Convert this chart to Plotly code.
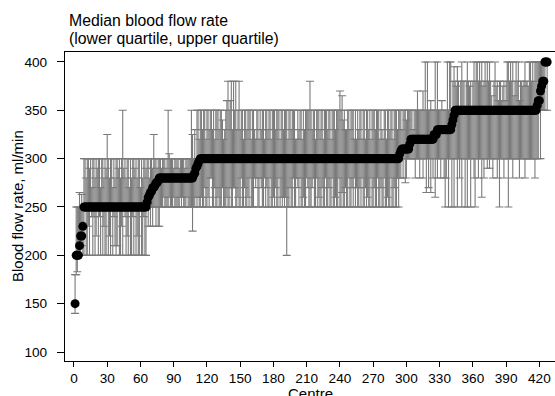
import plotly.graph_objects as go

# Median blood flow rate per centre (sorted), ml/min
median = [
    150,200,200,200,210,220,220,230,250,250,250,250,250,250,250,250,250,250,250,250,
    250,250,250,250,250,250,250,250,250,250,250,250,250,250,250,250,250,250,250,250,
    250,250,250,250,250,250,250,250,250,250,250,250,250,250,250,250,250,250,250,250,
    250,250,250,250,250,255,260,262,265,266,270,270,272,275,275,277,280,280,280,280,
    280,280,280,280,280,280,280,280,280,280,280,280,280,280,280,280,280,280,280,280,
    280,280,280,280,280,280,280,283,285,290,292,295,298,300,300,300,300,300,300,300,
    300,300,300,300,300,300,300,300,300,300,300,300,300,300,300,300,300,300,300,300,
    300,300,300,300,300,300,300,300,300,300,300,300,300,300,300,300,300,300,300,300,
    300,300,300,300,300,300,300,300,300,300,300,300,300,300,300,300,300,300,300,300,
    300,300,300,300,300,300,300,300,300,300,300,300,300,300,300,300,300,300,300,300,
    300,300,300,300,300,300,300,300,300,300,300,300,300,300,300,300,300,300,300,300,
    300,300,300,300,300,300,300,300,300,300,300,300,300,300,300,300,300,300,300,300,
    300,300,300,300,300,300,300,300,300,300,300,300,300,300,300,300,300,300,300,300,
    300,300,300,300,300,300,300,300,300,300,300,300,300,300,300,300,300,300,300,300,
    300,300,300,300,300,300,300,300,300,300,300,300,300,305,308,310,310,310,310,310,
    310,310,315,320,320,320,320,320,320,320,320,320,320,320,320,320,320,320,320,320,
    320,320,320,320,325,325,325,330,330,330,330,330,330,330,330,330,330,330,330,330,
    335,340,345,350,350,350,350,350,350,350,350,350,350,350,350,350,350,350,350,350,
    350,350,350,350,350,350,350,350,350,350,350,350,350,350,350,350,350,350,350,350,
    350,350,350,350,350,350,350,350,350,350,350,350,350,350,350,350,350,350,350,350,
    350,350,350,350,350,350,350,350,350,350,350,350,350,350,350,350,350,355,360,360,
    370,375,380,380,400,400,400,
]

# Lower quartile per centre
lower_q = [
    140,180,183,200,200,200,210,200,200,250,200,200,230,200,250,240,200,240,200,220,
    250,200,240,200,250,200,230,200,200,250,200,220,200,250,200,240,210,200,210,250,
    200,200,230,200,250,240,200,220,200,250,200,200,240,200,250,200,220,200,200,250,
    200,200,240,200,200,250,230,250,230,250,230,250,250,230,250,230,230,250,250,250,
    260,250,250,250,250,260,250,250,250,260,250,250,250,250,250,260,250,260,250,250,
    250,260,250,250,250,250,225,250,250,260,250,260,250,250,260,250,250,270,250,250,
    260,250,280,280,250,250,270,250,250,260,250,250,250,270,250,250,250,260,250,250,
    270,250,250,270,270,250,250,260,250,250,280,250,250,270,250,250,260,250,280,250,
    250,250,280,270,280,250,250,280,270,250,250,280,250,270,250,250,280,250,250,260,
    250,270,250,250,280,250,260,250,260,250,260,200,250,250,270,250,250,280,250,250,
    280,270,250,280,250,250,260,250,250,280,270,250,250,250,270,280,250,250,280,250,
    260,250,250,270,250,250,280,250,250,270,250,250,280,250,250,260,250,250,280,250,
    250,265,250,250,270,250,250,280,250,250,270,250,280,250,270,250,250,270,250,280,
    250,250,270,250,260,250,250,280,250,250,270,250,250,280,250,250,270,250,250,280,
    250,250,260,250,250,280,250,250,270,250,250,280,250,280,280,300,280,300,275,280,
    300,300,300,300,300,300,300,280,300,300,300,280,300,300,280,300,300,265,300,270,
    300,265,300,280,300,260,300,280,300,300,280,300,300,280,250,280,300,250,300,300,
    250,300,250,300,300,250,300,280,300,250,300,300,250,300,250,300,300,250,300,300,
    280,250,300,300,280,300,300,260,300,280,300,300,290,300,290,300,300,280,300,300,
    300,280,300,250,300,300,300,280,300,300,300,250,300,300,300,280,300,300,300,300,
    300,280,300,300,300,300,280,300,300,300,300,300,300,300,300,280,300,300,300,350,
    300,350,350,350,350,400,350,
]

# Upper quartile per centre
upper_q = [
    180,250,250,250,265,250,263,250,300,300,280,300,300,290,300,270,300,300,280,300,
    290,300,300,270,300,300,280,300,290,325,300,280,300,300,270,300,280,300,300,290,
    300,280,300,350,290,300,280,300,300,270,300,280,300,300,290,300,280,300,300,270,
    300,280,300,300,290,300,300,280,300,300,290,325,300,300,290,300,300,300,290,300,
    300,300,290,300,350,305,300,300,300,290,300,300,300,300,290,300,300,300,300,290,
    300,300,300,300,300,350,325,300,330,300,350,350,320,350,350,330,350,350,320,350,
    350,330,350,350,330,350,320,350,350,350,330,350,350,340,320,330,350,360,380,350,
    360,380,330,380,350,380,330,350,380,330,350,350,320,350,350,330,350,350,350,320,
    350,350,330,320,350,350,320,350,330,350,350,320,350,350,330,350,350,320,350,350,
    350,330,350,350,350,320,350,350,330,350,350,350,320,350,350,330,350,350,350,320,
    320,350,330,350,350,320,350,330,350,350,350,350,380,350,330,350,350,320,350,350,
    350,330,350,350,320,350,350,350,330,350,350,320,350,350,350,330,350,350,350,370,
    350,365,340,350,330,330,350,350,330,350,350,350,320,350,320,350,330,350,350,320,
    350,350,320,350,350,330,350,320,350,350,350,330,350,350,350,320,350,330,320,350,
    350,320,350,350,330,350,350,320,350,350,350,330,350,350,350,330,350,350,350,340,
    350,350,350,350,350,330,350,350,350,370,350,350,350,350,370,350,400,350,400,350,
    350,360,350,350,350,400,350,400,350,350,350,360,350,350,350,350,400,350,400,400,
    350,380,395,380,375,395,380,350,380,400,380,380,350,380,400,380,375,380,350,380,
    400,380,400,400,380,400,380,400,375,380,400,380,400,380,400,380,365,350,380,400,
    375,380,360,380,380,360,375,380,360,380,400,400,380,400,380,400,365,380,400,380,
    400,360,380,380,375,380,400,380,380,375,400,400,380,400,380,400,400,400,400,400,
    400,400,400,400,400,400,400,
]

centre = list(range(1, len(median) + 1))

err_plus = [u - m for u, m in zip(upper_q, median)]
err_minus = [m - l for m, l in zip(median, lower_q)]

fig = go.Figure()
fig.add_trace(go.Scatter(
    x=centre, y=median, mode="markers",
    marker=dict(size=9, color="rgba(0,0,0,0)"),
    error_y=dict(type="data", symmetric=False, array=err_plus, arrayminus=err_minus,
                 color="rgb(122,122,122)", thickness=1.1, width=4),
    hoverinfo="skip", showlegend=False,
))
fig.add_trace(go.Scatter(
    x=centre, y=median, mode="markers",
    marker=dict(size=9, color="black", line=dict(width=0)),
    showlegend=False,
))

font_family = "Liberation Sans, Arial, Helvetica, sans-serif"


def py(px):
    # convert a pixel row to paper y for this layout (plot area rows 52..361)
    return (361 - px) / 309


fig.update_layout(
    width=555, height=396,
    margin=dict(l=65, r=0, t=52, b=35),
    paper_bgcolor="white", plot_bgcolor="white",
    font=dict(family=font_family, color="black", size=14),
    xaxis=dict(range=[-8.1, 434.1], tickmode="array",
               tickvals=list(range(0, 421, 30)),
               ticks="outside", ticklen=5, tickwidth=1, tickcolor="black",
               showline=True, linecolor="black", linewidth=1.3, mirror=True,
               showgrid=False, zeroline=False,
               tickfont=dict(size=13.6)),
    yaxis=dict(range=[90.7, 410.3], tickmode="array",
               tickvals=[100, 150, 200, 250, 300, 350, 400],
               ticks="outside", ticklen=7, tickwidth=1, tickcolor="black",
               showline=True, linecolor="black", linewidth=1.3,
               showgrid=False, zeroline=False, ticklabelstandoff=7,
               tickfont=dict(size=13.6)),
    annotations=[
        dict(text="Median blood flow rate", xref="paper", yref="paper",
             x=(67 - 65) / 490, y=py(9.8), xanchor="left", yanchor="top",
             showarrow=False, font=dict(size=15.8)),
        dict(text="(lower quartile, upper quartile)", xref="paper", yref="paper",
             x=(67 - 65) / 490, y=py(27.6), xanchor="left", yanchor="top",
             showarrow=False, font=dict(size=15.8)),
        dict(text="Blood flow rate, ml/min", textangle=-90,
             xref="paper", yref="paper", x=(17.5 - 65) / 490, y=0.5,
             xanchor="center", yanchor="middle", showarrow=False,
             font=dict(size=15)),
        dict(text="Centre", xref="paper", yref="paper", x=0.5,
             y=py(384), xanchor="center", yanchor="top", borderpad=0,
             showarrow=False, font=dict(size=15)),
    ],
)

fig.write_html("out.html")
